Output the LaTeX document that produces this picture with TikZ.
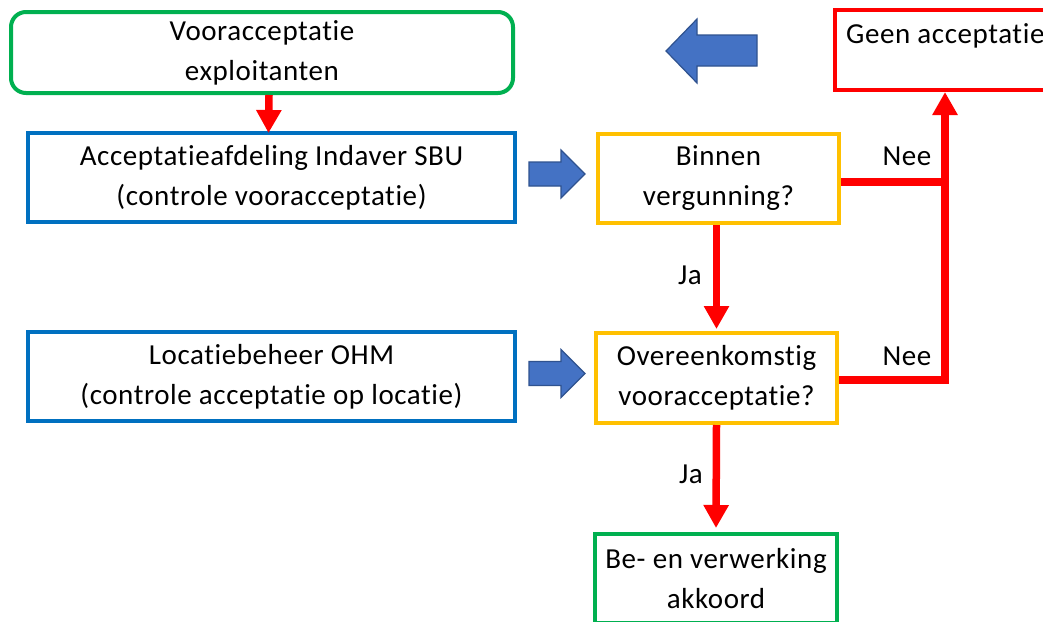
\documentclass[tikz,border=0pt]{standalone}
\usepackage{fontspec}
\setmainfont{Carlito}[LetterSpace=2.0, Ligatures=NoCommon]
\usetikzlibrary{arrows.meta}
\definecolor{boxgreen}{HTML}{00B050}
\definecolor{boxblue}{HTML}{0070C0}
\definecolor{boxyellow}{HTML}{FFC000}
\definecolor{flowred}{HTML}{FF0000}
\definecolor{arrowfill}{HTML}{4472C4}
\definecolor{arrowedge}{HTML}{2F528F}
\begin{document}
\begin{tikzpicture}[x=1pt,y=-1pt,
  every node/.style={font=\fontsize{29}{40}\selectfont, text=black},
  box/.style={draw, line width=4pt, align=center, inner sep=0pt},
  redline/.style={draw=flowred, line width=7.5pt},
  redarrow/.style={redline, -{Triangle[length=23pt,width=24pt]}},
  blockarrow/.style={fill=arrowfill, draw=arrowedge, line width=1.2pt, line join=miter},
  lbl/.style={inner sep=0pt}]
\clip (0,0) rectangle (1043,621);
\fill[white] (0,0) rectangle (1043,621);

% process boxes
\node[box, draw=boxgreen, rounded corners=15pt, minimum width=502pt, minimum height=81pt]
  (voor) at (262,52.5) {Vooracceptatie\\exploitanten};
\node[box, draw=boxblue, minimum width=487pt, minimum height=89pt]
  (sbu) at (271.5,177.5) {Acceptatieafdeling Indaver SBU\\(controle vooracceptatie)};
\node[box, draw=boxblue, minimum width=487pt, minimum height=89pt]
  (ohm) at (271.5,376.5) {Locatiebeheer OHM\\(controle acceptatie op locatie)};
\node[box, draw=boxyellow, minimum width=241pt, minimum height=89pt]
  (binnen) at (718.5,178.5) {Binnen\\vergunning?};
\node[box, draw=boxyellow, minimum width=241pt, minimum height=90pt]
  (overeen) at (716.5,378) {Overeenkomstig\\vooracceptatie?};
\node[box, draw=boxgreen, minimum width=242pt, minimum height=89pt]
  (akkoord) at (716,578.5) {Be- en verwerking\\akkoord};
\node[box, draw=flowred, minimum width=242pt, minimum height=80.5pt]
  (geen) at (956,49.75) {};
\node[lbl, anchor=base west] (geentxt) at (846,43) {Geen acceptatie};

% decision labels
\node[lbl] (nee1) at (907,156) {Nee};
\node[lbl] (nee2) at (907,356) {Nee};
\node[lbl] (ja1) at (690,275) {Ja};
\node[lbl] (ja2) at (691,474) {Ja};

% red flow connectors
\coordinate (neejoin) at (945,182);
\coordinate (bend) at (945,380);
\draw[redarrow] ([xshift=7pt]voor.south) -- ([xshift=-3pt,yshift=-2pt]sbu.north);
\draw[redarrow] (overeen.north |- binnen.south) -- ([yshift=2pt]overeen.north);
\draw[redarrow] (overeen.south) -- ([yshift=4pt]akkoord.north);
\draw[redline] (binnen.east |- neejoin) -- (neejoin);
\draw[redarrow] (overeen.east |- bend) -- (bend) -- (bend |- geen.south);

% blue block arrows
\draw[blockarrow] (529,162) -- (561,162) -- (561,150) -- (585,174) -- (561,198)
  -- (561,186) -- (529,186) -- cycle;
\draw[blockarrow] (529,361.5) -- (561,361.5) -- (561,349.5) -- (585,373.5) -- (561,397.5)
  -- (561,385.5) -- (529,385.5) -- cycle;
\draw[blockarrow] (757,35) -- (697,35) -- (697,19) -- (666,51) -- (697,83)
  -- (697,66) -- (757,66) -- cycle;
\end{tikzpicture}
\end{document}
